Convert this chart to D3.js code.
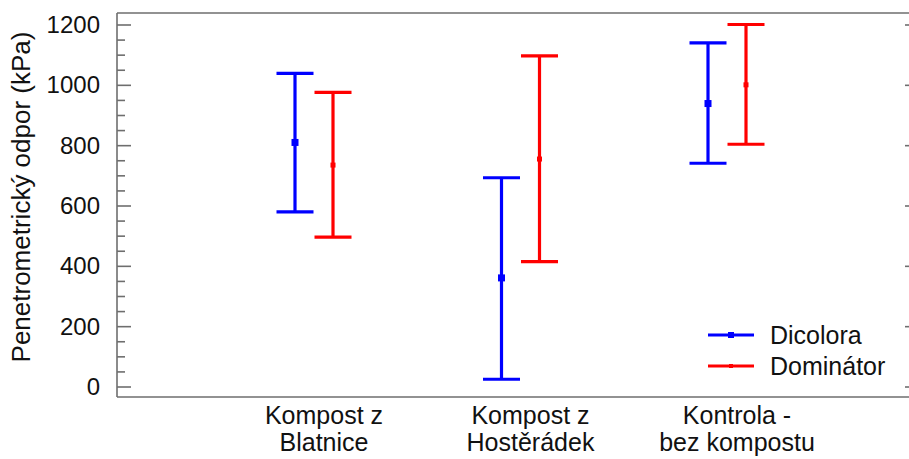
<!DOCTYPE html>
<html>
<head>
<meta charset="utf-8">
<script src="https://cdn.jsdelivr.net/npm/d3@7/dist/d3.min.js"></script>
<style>
  html, body { margin: 0; padding: 0; background: #fff; }
  svg { display: block; font-family: "Liberation Sans", Arial, sans-serif; }
</style>
</head>
<body>
<svg id="chart" width="909" height="459"></svg>
<script>
// ---- data ----
const categories = [["Kompost z", "Blatnice"], ["Kompost z", "Hostěrádek"], ["Kontrola -", "bez kompostu"]];
const seriesNames = ["Dicolora", "Dominátor"];
const dicoloraMean = [809, 360, 938];
const dicoloraLow  = [579, 24, 740];
const dicoloraHigh = [1038, 692, 1139];
const dominatorMean = [734, 754, 1000];
const dominatorLow  = [495, 414, 803];
const dominatorHigh = [975, 1096, 1200];
const yTicks = [0, 200, 400, 600, 800, 1000, 1200];

(function () {
// ---- layout ----
const svg = d3.select("#chart");
const pL = 117, pR = 914, pT = 13, pB = 397;
const colors = ["#0000ff", "#ff0000"];
const frameColor = "#6e6e6e";

const y = d3.scaleLinear().domain([0, 1200]).range([386.5, 24.5]);
const x = d3.scalePoint().domain(d3.range(categories.length)).range([324, 737]);
const offsets = [-29, 9];

// frame lines (left, top, bottom)
svg.append("line").attr("x1", pL).attr("x2", pL).attr("y1", pT).attr("y2", pB)
  .attr("stroke", frameColor).attr("stroke-width", 1.6);
svg.append("line").attr("x1", pL).attr("x2", pR).attr("y1", pT).attr("y2", pT)
  .attr("stroke", frameColor).attr("stroke-width", 1.6);
svg.append("line").attr("x1", pL).attr("x2", pR).attr("y1", pB).attr("y2", pB)
  .attr("stroke", frameColor).attr("stroke-width", 1.6);

// left axis
const axisL = d3.axisRight(y).tickValues(yTicks).tickSize(14).tickFormat("");
const gL = svg.append("g").attr("transform", `translate(${pL},0)`).call(axisL);
gL.select(".domain").remove();
gL.selectAll(".tick line").attr("stroke", frameColor).attr("stroke-width", 1.6);

const minor = d3.range(0, 1201, 50).filter(v => v % 200 !== 0);
const axisMinor = d3.axisRight(y).tickValues(minor).tickSize(8).tickFormat("");
const gM = svg.append("g").attr("transform", `translate(${pL},0)`).call(axisMinor);
gM.select(".domain").remove();
gM.selectAll(".tick line").attr("stroke", frameColor).attr("stroke-width", 1.6);

// tick labels
svg.append("g").selectAll("text").data(yTicks).join("text")
  .attr("x", 100).attr("y", d => y(d)).attr("dy", "0.35em")
  .attr("text-anchor", "end").attr("font-size", 24).attr("fill", "#111")
  .text(d => d);

// right axis ticks
const axisR = d3.axisLeft(y).tickValues(yTicks).tickSize(9).tickFormat("");
const gR = svg.append("g").attr("transform", `translate(${pR},0)`).call(axisR);
gR.select(".domain").remove();
gR.selectAll(".tick line").attr("stroke", frameColor).attr("stroke-width", 1.6);

// y title
svg.append("text")
  .attr("transform", `translate(30,197) rotate(-90)`)
  .attr("text-anchor", "middle").attr("font-size", 26).attr("fill", "#111")
  .text("Penetrometrický odpor (kPa)");

// x category labels
const xl = svg.append("g").selectAll("text").data(categories).join("text")
  .attr("text-anchor", "middle").attr("font-size", 25).attr("fill", "#111");
xl.each(function(d, i) {
  const t = d3.select(this);
  d.forEach((line, j) => {
    t.append("tspan").attr("x", x(i)).attr("y", 424 + j * 27).text(line);
  });
});

// error bars
const series = [
  { mean: dicoloraMean, low: dicoloraLow, high: dicoloraHigh },
  { mean: dominatorMean, low: dominatorLow, high: dominatorHigh }
];
const capHalf = 18.5;
series.forEach((s, si) => {
  const g = svg.append("g").attr("stroke", colors[si]).attr("fill", colors[si]);
  s.mean.forEach((m, i) => {
    const cx = x(i) + offsets[si];
    g.append("line").attr("x1", cx).attr("x2", cx).attr("y1", y(s.low[i])).attr("y2", y(s.high[i]))
      .attr("stroke-width", 3.2);
    g.append("line").attr("x1", cx - capHalf).attr("x2", cx + capHalf).attr("y1", y(s.high[i])).attr("y2", y(s.high[i]))
      .attr("stroke-width", 3.2);
    g.append("line").attr("x1", cx - capHalf).attr("x2", cx + capHalf).attr("y1", y(s.low[i])).attr("y2", y(s.low[i]))
      .attr("stroke-width", 3.2);
    const ms = si === 0 ? 7 : 5;
    g.append("rect").attr("x", cx - ms / 2).attr("y", y(m) - ms / 2).attr("width", ms).attr("height", ms).attr("stroke", "none");
  });
});

// legend
const leg = svg.append("g");
seriesNames.forEach((name, si) => {
  const ly = 335 + si * 31;
  leg.append("line").attr("x1", 708).attr("x2", 754).attr("y1", ly).attr("y2", ly)
    .attr("stroke", colors[si]).attr("stroke-width", 3.2);
  const ms = si === 0 ? 6 : 4;
  leg.append("rect").attr("x", 731 - ms / 2).attr("y", ly - ms / 2).attr("width", ms).attr("height", ms)
    .attr("fill", colors[si]);
  leg.append("text").attr("x", 770).attr("y", ly).attr("dy", "0.35em")
    .attr("font-size", 25).attr("fill", "#111").text(name);
});
})();
</script>
</body>
</html>
